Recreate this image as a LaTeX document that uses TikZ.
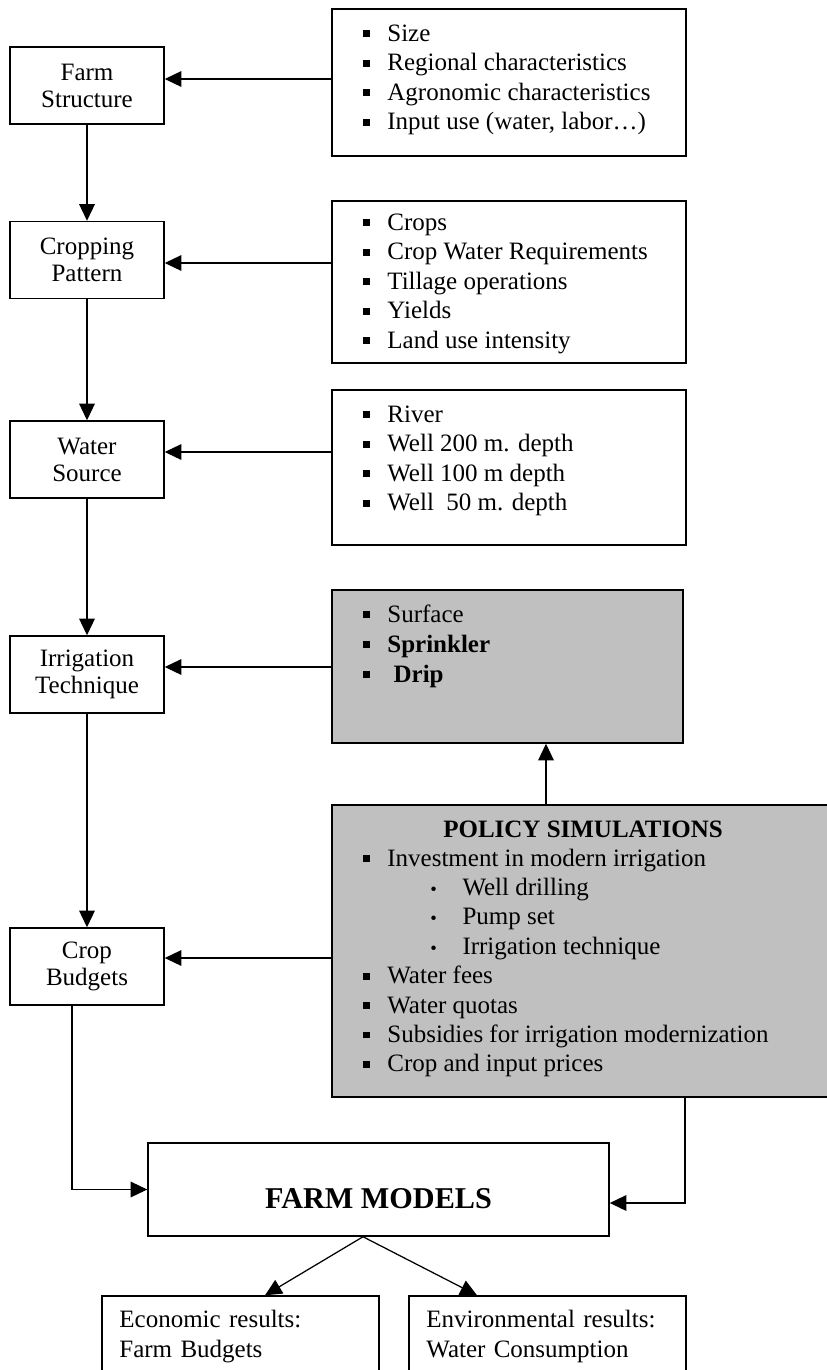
\documentclass[tikz,border=0pt]{standalone}
\usepackage{fontspec}
\setmainfont{Liberation Serif}
\usetikzlibrary{arrows.meta,positioning}
\definecolor{shade}{HTML}{C0C0C0}
\newcommand{\sqb}{\makebox[11.5pt][l]{\rule[1.9pt]{3.2pt}{3.2pt}}}
\newcommand{\rdb}{\makebox[15.4pt][l]{{\fontsize{9}{9}\selectfont\textbullet}}}

\begin{document}
\begin{tikzpicture}[
  x=0.48pt,y=-0.48pt,font=\fontsize{12}{14.1}\selectfont,
  sized/.style 2 args={minimum width=#1*0.48pt,minimum height=#2*0.48pt},
  stage/.style={draw,line width=.7pt,sized={154}{77},align=center,inner sep=0pt,
                font=\fontsize{12}{13}\selectfont},
  listbox/.style={draw,line width=.7pt,inner sep=0pt},
  item/.style={anchor=base west,inner sep=0pt},
  flow/.style={-{Triangle[length=8pt,width=7.5pt]},line width=.6pt}
]
\useasboundingbox (0,0) rectangle (827,1370);

% Model stages on the left.
\node[stage] (farm)   at (87,85.5)  {Farm\\Structure};
\node[stage] (crop)   at (87,260)   {Cropping\\Pattern};
\node[stage] (source) at (87,459.5) {Water\\Source};
\node[stage] (tech)   at (87,674.5) {Irrigation\\Technique};
\node[stage] (budget) at (87,966.5) {Crop\\Budgets};

% Data boxes on the right.
\node[listbox,sized={354}{147}] (fsList)   at (509,82.5)  {};
\node[listbox,sized={354}{162}] (cropList) at (509,282)   {};
\node[listbox,sized={354}{155}] (srcList)  at (509,467.5) {};
\node[listbox,fill=shade,sized={351}{153}] (techList) at (507.5,666.5) {};
\node[listbox,fill=shade,sized={503}{292}] (policy)   at (583.5,951)   {};

\foreach \t [count=\i] in {Size,Regional characteristics,Agronomic characteristics,
    {Input use (water, labor…)}}
  \node[item] (fs-\i) at (363,{41+29.5*(\i-1)}) {\sqb\t};
\foreach \t [count=\i] in {Crops,Crop Water Requirements,Tillage operations,Yields,
    Land use intensity}
  \node[item] (cr-\i) at (363,{230+29.5*(\i-1)}) {\sqb\t};
\foreach \t [count=\i] in {River,Well 200 m. depth,Well 100 m depth,Well\ \ 50 m. depth}
  \node[item] (src-\i) at (363,{422+29.5*(\i-1)}) {\sqb\t};
\foreach \t [count=\i] in {Surface,\textbf{Sprinkler},\ \textbf{Drip}}
  \node[item] (tq-\i) at (363,{622+30*(\i-1)}) {\sqb\t};

\node[anchor=base,inner sep=0pt,font=\fontsize{12}{14}\selectfont\bfseries]
  (policyTitle) at (583,837) {POLICY SIMULATIONS};
\foreach \x/\t [count=\i] in {363/\sqb Investment in modern irrigation,430/\rdb Well drilling,
    430/\rdb Pump set,430/\rdb Irrigation technique,363/\sqb Water fees,363/\sqb Water quotas,
    363/\sqb Subsidies for irrigation modernization,363/\sqb Crop and input prices}
  \node[item] (ps-\i) at (\x,{866+29.4*(\i-1)}) {\t};

% Farm models and results.
\node[draw,line width=.7pt,sized={461}{93},inner sep=0pt,text height=17.8pt,text depth=0pt,
      font=\fontsize{14.5}{16}\selectfont\bfseries] (models) at (378.5,1189.5) {FARM MODELS};
\node[listbox,sized={277}{100}] (econ) at (240.5,1346) {};
\node[listbox,sized={277}{100}] (env)  at (547.5,1346) {};
\node[item,text width=250*0.48pt,align=left,font=\fontsize{12}{14.4}\selectfont]
  (econTxt) at (119,1327) {Economic results:\\Farm Budgets};
\node[item,text width=250*0.48pt,align=left,font=\fontsize{12}{14.4}\selectfont]
  (envTxt) at (426,1327) {Environmental results:\\Water Consumption};

% Connectors.
\draw[flow] (farm.south) -- (crop.north);
\draw[flow] (crop.south) -- (source.north);
\draw[flow] (source.south) -- (tech.north);
\draw[flow] (tech.south) -- (budget.north);
\foreach \a/\b/\y in {fsList/farm/79,cropList/crop/263,srcList/source/452,
    techList/tech/667,policy/budget/958}
  \draw[flow] (\a.west |- 0,\y) -- (\b.east |- 0,\y);
\draw[flow] (policy.north -| 546,0) -- (techList.south -| 546,0);
\draw[flow] (budget.south -| 72,0) |- (models.west);
\draw[flow] (policy.south -| 685,0) |- (models.east |- 0,1203);
\draw[flow] (models.south -| 363,0) -- (econ.north -| 265,0);
\draw[flow] (models.south -| 363,0) -- (env.north -| 477,0);

\end{tikzpicture}
\end{document}
